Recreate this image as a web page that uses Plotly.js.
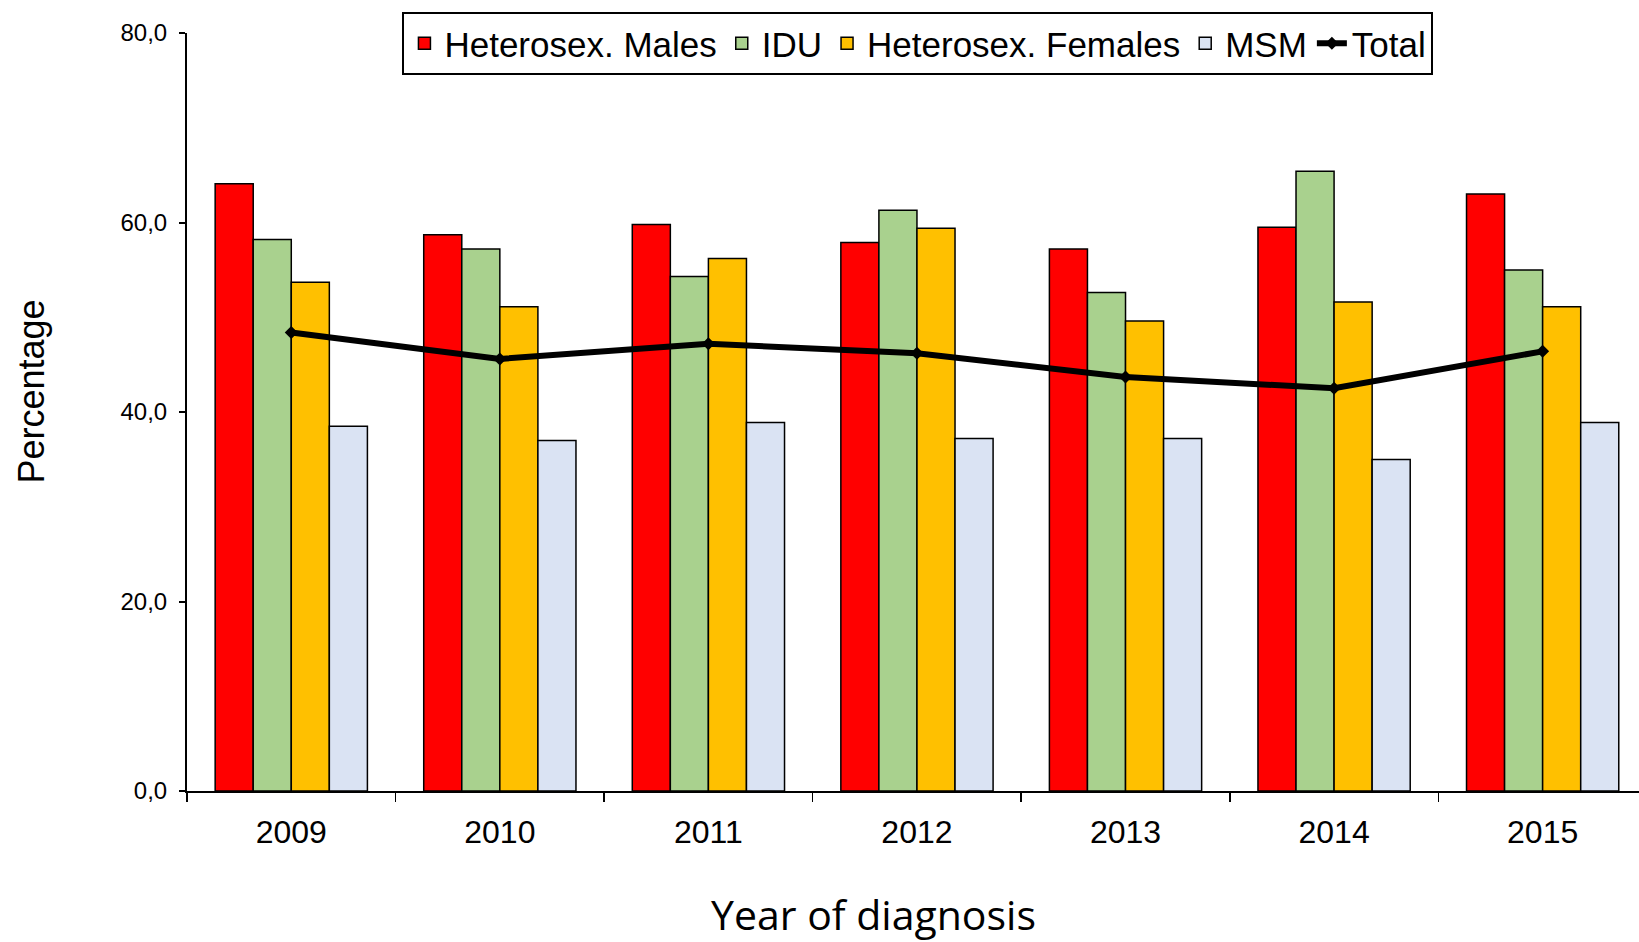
<!DOCTYPE html>
<html>
<head>
<meta charset="utf-8">
<script src="https://cdn.plot.ly/plotly-3.0.1.min.js"></script>
<style>
  html, body { margin: 0; padding: 0; background: #fff; }
  #chart { width: 1639px; height: 942px; }
</style>
</head>
<body>
<div id="chart"></div>
<script>
// years on the x axis
const years = ['2009', '2010', '2011', '2012', '2013', '2014', '2015'];

// percentages
const heteroMales   = [64.1, 58.7, 59.8, 57.9, 57.2, 59.5, 63.0];
const idu           = [58.2, 57.2, 54.3, 61.3, 52.6, 65.4, 55.0];
const heteroFemales = [53.7, 51.1, 56.2, 59.4, 49.6, 51.6, 51.1];
const msm           = [38.5, 37.0, 38.9, 37.2, 37.2, 35.0, 38.9];
const total         = [48.4, 45.6, 47.2, 46.2, 43.7, 42.5, 46.4];

const yTicks = [0, 20, 40, 60, 80];
const yTickText = yTicks.map(v => v.toFixed(1).replace('.', ','));

const barLine = { color: '#000', width: 1.5 };

function bar(name, values, color) {
    return {
        type: 'bar',
        name: name,
        x: years,
        y: values,
        marker: { color: color, line: barLine }
    };
}

const traces = [
    bar('Heterosex. Males', heteroMales, '#FF0000'),
    bar('IDU', idu, '#A9D18E'),
    bar('Heterosex. Females', heteroFemales, '#FFC000'),
    bar('MSM', msm, '#DAE3F3'),
    {
        type: 'scatter',
        mode: 'lines+markers',
        name: 'Total',
        x: years,
        y: total,
        line: { color: '#000', width: 6 },
        marker: { symbol: 'diamond', size: 10, color: '#000' }
    }
];

const xRange = [-0.5, 6.462];

const layout = {
    width: 1639,
    height: 942,
    margin: { l: 187, r: 0, t: 33, b: 151 },
    paper_bgcolor: '#fff',
    plot_bgcolor: '#fff',
    barmode: 'group',
    bargap: 0.27,
    bargroupgap: 0,
    font: { family: 'Liberation Sans, Arial, sans-serif', color: '#000' },
    showlegend: true,
    legend: {
        orientation: 'h',
        x: 0.5034,
        xanchor: 'center',
        y: 1.0277,
        yanchor: 'top',
        bgcolor: '#fff',
        bordercolor: '#000',
        borderwidth: 2,
        traceorder: 'normal',
        font: { family: 'Liberation Sans, Arial, sans-serif', size: 35 }
    },
    xaxis: {
        type: 'category',
        range: xRange,
        tickson: 'boundaries',
        ticks: 'outside',
        ticklen: 9,
        tickwidth: 1.5,
        tickcolor: '#000',
        showline: true,
        linecolor: '#000',
        linewidth: 2,
        showgrid: false,
        zeroline: false,
        tickfont: { size: 32 },
        ticklabelstandoff: 12,
        fixedrange: true
    },
    xaxis2: {
        overlaying: 'x',
        anchor: 'y',
        type: 'linear',
        range: xRange,
        tickvals: years.map((_, i) => i - 0.5).concat([years.length - 0.5]),
        ticks: 'inside',
        ticklen: 9,
        tickwidth: 1.5,
        tickcolor: '#000',
        showticklabels: false,
        showline: false,
        showgrid: false,
        zeroline: false
    },
    yaxis: {
        range: [0, 80],
        tickvals: yTicks,
        ticktext: yTickText,
        ticks: 'outside',
        ticklen: 6,
        tickwidth: 2,
        tickcolor: '#000',
        showline: true,
        linecolor: '#000',
        linewidth: 2,
        showgrid: false,
        zeroline: false,
        tickfont: { size: 24 },
        ticklabelstandoff: 7
    },
    yaxis2: {
        overlaying: 'y',
        anchor: 'x',
        side: 'left',
        range: [0, 80],
        tickvals: yTicks,
        ticks: 'inside',
        ticklen: 7,
        tickwidth: 2,
        tickcolor: '#000',
        showticklabels: false,
        showline: false,
        showgrid: false,
        zeroline: false
    },
    annotations: [
        {
            text: 'Year of diagnosis',
            xref: 'paper', yref: 'paper',
            x: 0.4725, y: -0.162,
            xanchor: 'center', yanchor: 'middle',
            showarrow: false,
            font: { family: 'Open Sans, Noto Sans, sans-serif', size: 41 }
        },
        {
            text: 'Percentage',
            xref: 'paper', yref: 'paper',
            x: -0.1074, y: 0.527,
            xanchor: 'center', yanchor: 'middle',
            textangle: -90,
            showarrow: false,
            font: { family: 'Liberation Sans, Arial, sans-serif', size: 36 }
        }
    ]
};

Plotly.newPlot('chart', traces, layout, { displayModeBar: false, staticPlot: true });
</script>
</body>
</html>
